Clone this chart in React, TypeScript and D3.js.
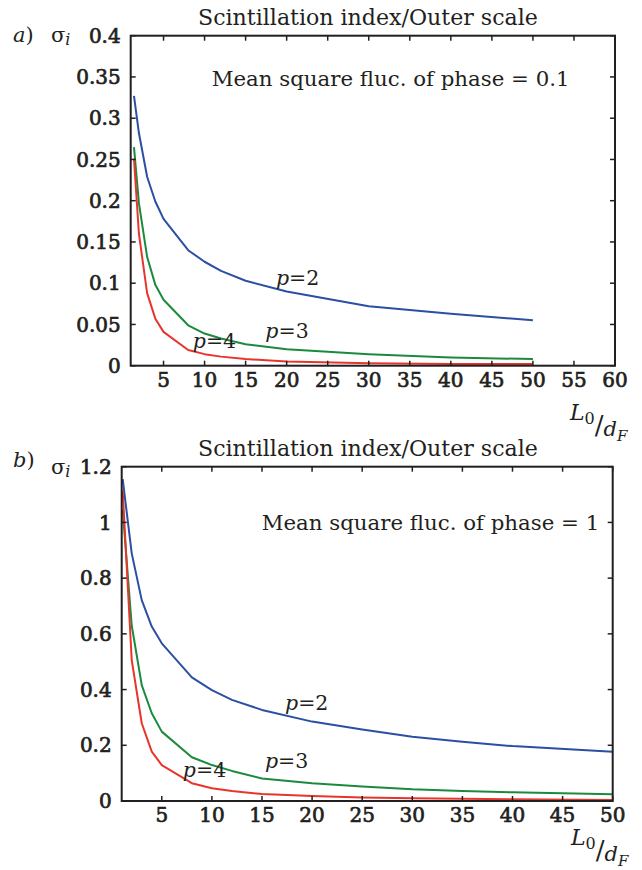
import React from "react";
import * as d3 from "d3";

// ---------- data ----------
const topX = [1.4, 2, 3, 4, 5, 8, 10, 12, 15, 20, 30, 40, 50];
const topP2 = [0.327, 0.282, 0.229, 0.199, 0.178, 0.14, 0.126, 0.115, 0.103, 0.09, 0.072, 0.063, 0.055];
const topP3 = [0.265, 0.197, 0.132, 0.098, 0.08, 0.049, 0.039, 0.033, 0.026, 0.02, 0.014, 0.01, 0.008];
const topP4 = [0.251, 0.16, 0.088, 0.057, 0.041, 0.019, 0.014, 0.011, 0.008, 0.005, 0.003, 0.002, 0.002];

const botX = [1.1, 2, 3, 4, 5, 8, 10, 12, 15, 20, 25, 30, 35, 40, 50];
const botP2 = [1.155, 0.889, 0.721, 0.626, 0.566, 0.444, 0.398, 0.363, 0.327, 0.285, 0.257, 0.231, 0.213, 0.197, 0.177];
const botP3 = [1.045, 0.63, 0.416, 0.315, 0.249, 0.157, 0.129, 0.108, 0.081, 0.064, 0.052, 0.042, 0.036, 0.031, 0.024];
const botP4 = [1.114, 0.506, 0.279, 0.177, 0.129, 0.064, 0.046, 0.036, 0.025, 0.018, 0.013, 0.01, 0.008, 0.006, 0.004];

const topXTicks = [5, 10, 15, 20, 25, 30, 35, 40, 45, 50, 55, 60];
const topYTicks = [0, 0.05, 0.1, 0.15, 0.2, 0.25, 0.3, 0.35, 0.4];
const topYLabels = ["0", "0.05", "0.1", "0.15", "0.2", "0.25", "0.3", "0.35", "0.4"];
const botXTicks = [5, 10, 15, 20, 25, 30, 35, 40, 45, 50];
const botYTicks = [0, 0.2, 0.4, 0.6, 0.8, 1, 1.2];
const botYLabels = ["0", "0.2", "0.4", "0.6", "0.8", "1", "1.2"];

const seriesNames = ["2", "3", "4"];
const topLabelPos = [[18.7, 0.098], [17.4, 0.0336], [8.56, 0.0215]];
const botLabelPos = [[17.3, 0.327], [15.3, 0.118], [7.1, 0.087]];

const COLORS = ["#2b4fa3", "#1c8a3e", "#e8352c"];
const INK = "#231f20";
const FONT = "'DejaVu Serif', serif";

type PanelProps = {
  xs: number[];
  ys: number[][];
  xDomain: [number, number];
  yDomain: [number, number];
  xRange: [number, number];
  yRange: [number, number];
  xTicks: number[];
  yTicks: number[];
  yLabels: string[];
  labelPos: number[][];
  title: string;
  titleX: number;
  titleY: number;
  note: string;
  noteX: number;
  noteY: number;
  letter: string;
  letterY: number;
  sigmaY: number;
  axLabelX: number;
  axLabelY: number;
};

function Panel(p: PanelProps) {
  const x = d3.scaleLinear().domain(p.xDomain).range(p.xRange);
  const y = d3.scaleLinear().domain(p.yDomain).range(p.yRange);
  const line = d3
    .line<[number, number]>()
    .x((d) => x(d[0]))
    .y((d) => y(d[1]));
  const [x0, x1] = p.xRange;
  const [yb, yt] = p.yRange;
  const tl = 5;
  const tickStyle = { fontFamily: FONT, fontSize: 20, fill: INK, stroke: INK, strokeWidth: 0.7 } as const;
  return (
    <g>
      <text x={p.titleX} y={p.titleY} fontFamily={FONT} fontSize={22.1} fill={INK}>
        {p.title}
      </text>
      <text x={p.noteX} y={p.noteY} fontFamily={FONT} fontSize={21.3} fill={INK}>
        {p.note}
      </text>
      <text x={13} y={p.letterY} fontFamily={FONT} fontSize={21} fill={INK}>
        <tspan fontStyle="italic">{p.letter}</tspan>)
      </text>
      <text x={51} y={p.sigmaY} fontFamily={FONT} fontSize={21} fill={INK}>
        σ
        <tspan fontStyle="italic" fontSize={16} dy={3}>
          i
        </tspan>
      </text>
      {/* curves */}
      {p.ys.map((ser, i) => (
        <path
          key={i}
          d={line(p.xs.map((xv, j) => [xv, ser[j]] as [number, number])) || ""}
          fill="none"
          stroke={COLORS[i]}
          strokeWidth={2}
          strokeLinejoin="round"
        />
      ))}
      {/* frame */}
      <rect x={x0} y={yt} width={x1 - x0} height={yb - yt} fill="none" stroke={INK} strokeWidth={2} />
      {p.xTicks.map((t) => (
        <g key={"xt" + t}>
          <line x1={x(t)} x2={x(t)} y1={yb} y2={yb - tl} stroke={INK} strokeWidth={1.5} />
          <line x1={x(t)} x2={x(t)} y1={yt} y2={yt + tl} stroke={INK} strokeWidth={1.5} />
          <text x={x(t)} y={yb + 21} textAnchor="middle" {...tickStyle}>
            {String(t)}
          </text>
        </g>
      ))}
      {p.yTicks.map((t, i) => (
        <g key={"yt" + t}>
          <line x1={x0} x2={x0 + tl} y1={y(t)} y2={y(t)} stroke={INK} strokeWidth={1.5} />
          <line x1={x1} x2={x1 - tl} y1={y(t)} y2={y(t)} stroke={INK} strokeWidth={1.5} />
          <text x={x0 - 10} y={y(t)} dy="0.36em" textAnchor="end" {...tickStyle}>
            {p.yLabels[i]}
          </text>
        </g>
      ))}
      {/* series labels */}
      {seriesNames.map((n, i) => (
        <text
          key={"lab" + n}
          x={x(p.labelPos[i][0])}
          y={y(p.labelPos[i][1])}
          fontFamily={FONT}
          fontSize={20.5}
          fill={INK}
        >
          <tspan fontStyle="italic">p</tspan>={n}
        </text>
      ))}
      {/* axis label L0/dF */}
      <text x={p.axLabelX} y={p.axLabelY} fontFamily={FONT} fill={INK} fontSize={22}>
        <tspan fontStyle="italic">L</tspan>
        <tspan fontSize={16} dy={4}>0</tspan>
        <tspan fontSize={26} dy={10}>/</tspan>
        <tspan fontStyle="italic" fontSize={21} dy={2}>d</tspan>
        <tspan fontStyle="italic" fontSize={15} dy={5}>F</tspan>
      </text>
    </g>
  );
}

export default function App() {
  return (
    <svg
      width={642}
      height={870}
      viewBox="0 0 642 870"
      style={{ position: "absolute", left: 0, top: 0, background: "#fff" }}
    >
      <Panel
        xs={topX}
        ys={[topP2, topP3, topP4]}
        xDomain={[1, 60]}
        yDomain={[0, 0.4]}
        xRange={[130.7, 615]}
        yRange={[365.7, 35.7]}
        xTicks={topXTicks}
        yTicks={topYTicks}
        yLabels={topYLabels}
        labelPos={topLabelPos}
        title="Scintillation index/Outer scale"
        titleX={198}
        titleY={25}
        note="Mean square fluc. of phase = 0.1"
        noteX={211.7}
        noteY={86}
        letter="a"
        letterY={42}
        sigmaY={42}
        axLabelX={570}
        axLabelY={420}
      />
      <Panel
        xs={botX}
        ys={[botP2, botP3, botP4]}
        xDomain={[1, 50]}
        yDomain={[0, 1.2]}
        xRange={[121.7, 612.7]}
        yRange={[801, 466.7]}
        xTicks={botXTicks}
        yTicks={botYTicks}
        yLabels={botYLabels}
        labelPos={botLabelPos}
        title="Scintillation index/Outer scale"
        titleX={198}
        titleY={456}
        note="Mean square fluc. of phase = 1"
        noteX={261.7}
        noteY={530}
        letter="b"
        letterY={467}
        sigmaY={474}
        axLabelX={571}
        axLabelY={845}
      />
    </svg>
  );
}
